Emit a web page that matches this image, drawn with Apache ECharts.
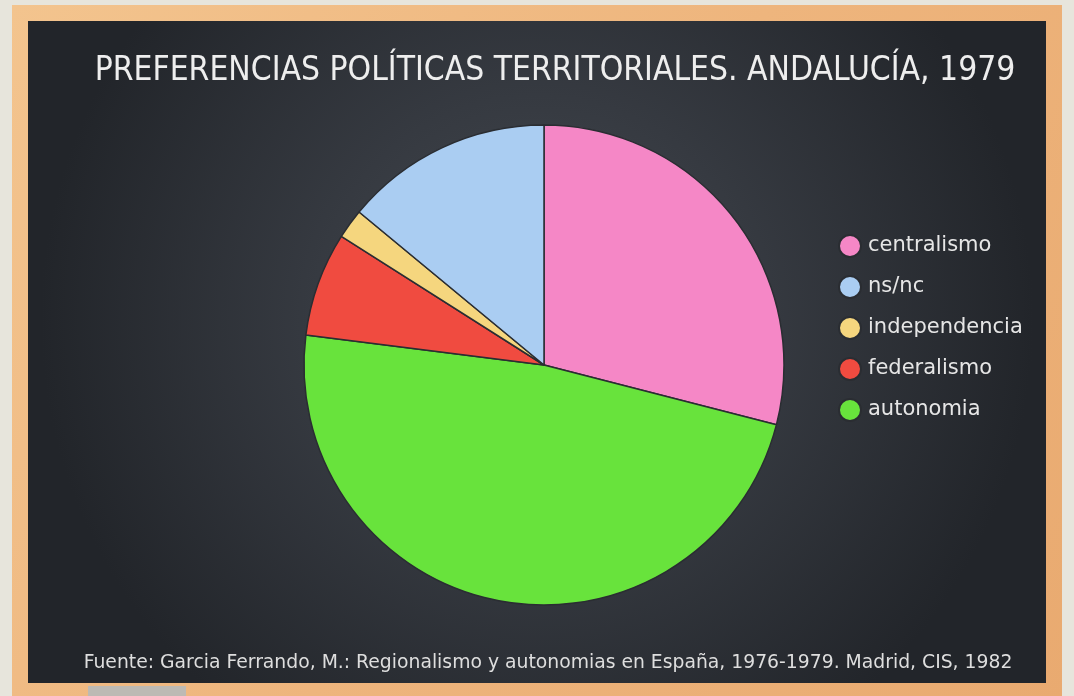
<!DOCTYPE html>
<html>
<head>
<meta charset="utf-8">
<script src="https://cdn.jsdelivr.net/npm/echarts@6/dist/echarts.min.js"></script>
<style>
  html, body { margin: 0; padding: 0; background: #e7e5dc; }
  #chart { width: 1074px; height: 696px; }
</style>
</head>
<body>
<div id="chart"></div>
<script>
// datos (porcentajes)
var categories = ['centralismo', 'autonomia', 'federalismo', 'independencia', 'ns/nc'];
var values = [29, 48, 7, 2, 14];
var colors = ['#f587c6', '#68e33c', '#f04b40', '#f5d67e', '#aacdf2'];
var legendOrder = ['centralismo', 'ns/nc', 'independencia', 'federalismo', 'autonomia'];

var titleText = 'PREFERENCIAS POLÍTICAS TERRITORIALES. ANDALUCÍA, 1979';
var sourceText = 'Fuente: Garcia Ferrando, M.: Regionalismo y autonomias en España, 1976-1979. Madrid, CIS, 1982';

var titleFont = '"DejaVu Sans Condensed", "Open Sans", sans-serif';
var bodyFont = '"DejaVu Sans", "Open Sans", sans-serif';

var chart = echarts.init(document.getElementById('chart'));

var pieData = categories.map(function (name, i) {
  return { name: name, value: values[i], itemStyle: { color: colors[i] } };
});

var option = {
  backgroundColor: '#e7e5dc',
  title: [{
    text: titleText,
    left: 550,
    top: 50,
    textAlign: 'center',
    textStyle: { color: '#eeeeee', fontFamily: titleFont, fontSize: 33.3, fontWeight: 'normal' }
  }, {
    text: sourceText,
    left: 543,
    top: 649,
    textAlign: 'center',
    textStyle: { color: '#dedede', fontFamily: bodyFont, fontSize: 18.8, fontWeight: 'normal' }
  }],
  legend: {
    orient: 'vertical',
    left: 833,
    top: 229,
    icon: 'circle',
    itemWidth: 22,
    itemHeight: 22,
    itemGap: 17,
    data: legendOrder,
    textStyle: { color: '#e6e6e6', fontFamily: bodyFont, fontSize: 21, lineHeight: 22, padding: [0, 0, 0, 2] }
  },
  graphic: [
    // marco de madera
    {
      type: 'rect', z: -10, silent: true,
      shape: { x: 12, y: 5, width: 1050, height: 700 },
      style: {
        fill: new echarts.graphic.LinearGradient(0, 0, 1, 1, [
          { offset: 0, color: '#f3c48e' },
          { offset: 0.5, color: '#eeb57d' },
          { offset: 1, color: '#e9aa70' }
        ])
      }
    },
    // borrador
    {
      type: 'rect', z: -9, silent: true,
      shape: { x: 88, y: 686, width: 98, height: 12 },
      style: { fill: '#bdbab4' }
    },
    // pizarra
    {
      type: 'rect', z: -8, silent: true,
      shape: { x: 28, y: 21, width: 1018, height: 662 },
      style: {
        fill: new echarts.graphic.RadialGradient(0.5, 0.45, 0.75, [
          { offset: 0, color: '#454a51' },
          { offset: 0.45, color: '#363a41' },
          { offset: 1, color: '#22252a' }
        ])
      }
    }
  ],
  series: [{
    type: 'pie',
    center: [544, 365],
    radius: 240,
    startAngle: 90,
    clockwise: true,
    label: { show: false },
    labelLine: { show: false },
    emphasis: { disabled: true },
    itemStyle: { borderColor: '#2a2d32', borderWidth: 1.5 },
    data: pieData
  }]
};

chart.setOption(option);
</script>
</body>
</html>
